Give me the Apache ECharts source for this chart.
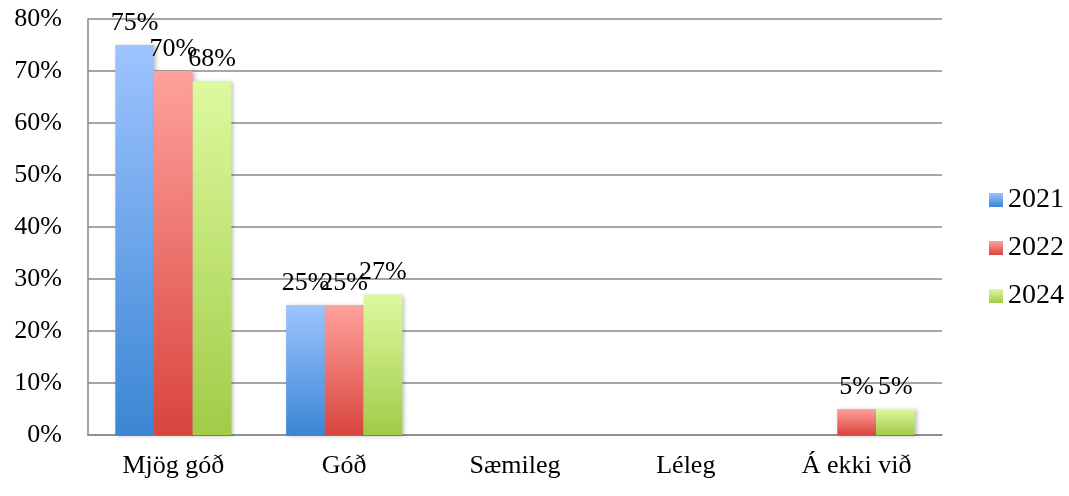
<!DOCTYPE html>
<html><head><meta charset="utf-8">
<script src="https://cdn.jsdelivr.net/npm/echarts@6/dist/echarts.min.js"></script>
<style>html,body{margin:0;padding:0;background:#fff}#c{width:1069px;height:496px}</style>
</head><body><div id="c"></div>
<script>
const categories = ['Mjög góð', 'Góð', 'Sæmileg', 'Léleg', 'Á ekki við'];
const years = ['2021', '2022', '2024'];
const v2021 = [75, 25, 0, 0, 0];
const v2022 = [70, 25, 0, 0, 5];
const v2024 = [68, 27, 0, 0, 5];
const yTicks = [0, 10, 20, 30, 40, 50, 60, 70, 80];

const FONT = 'Liberation Serif';
const grads = [
  ['#9EC4FF', '#3B86D4'],
  ['#FFA19C', '#D8453D'],
  ['#DCFA9E', '#A2CB48']
];
function grad(i) {
  return new echarts.graphic.LinearGradient(0, 0, 0, 1, [
    {offset: 0, color: grads[i][0]}, {offset: 1, color: grads[i][1]}
  ]);
}
const allVals = [v2021, v2022, v2024];
const chart = echarts.init(document.getElementById('c'));
chart.setOption({
  animation: false,
  backgroundColor: '#fff',
  grid: {left: 88, right: 127, top: 19, bottom: 61},
  legend: {
    orient: 'vertical', left: 984, top: 'middle', itemGap: 20,
    itemWidth: 14, itemHeight: 14,
    textStyle: {fontFamily: FONT, fontSize: 28, color: '#000', padding: [0, 0, 0, 0]},
    data: years.map((y, i) => ({name: y, icon: 'rect'}))
  },
  xAxis: {
    type: 'category', data: categories,
    axisLine: {lineStyle: {color: '#888', width: 1.5}},
    axisTick: {show: false},
    axisLabel: {fontFamily: FONT, fontSize: 26, color: '#000', margin: 18}
  },
  yAxis: {
    type: 'value', min: 0, max: 80, interval: 10,
    axisLine: {show: true, lineStyle: {color: '#888', width: 1.5}},
    axisTick: {show: false},
    splitLine: {lineStyle: {color: '#888', width: 1.5}},
    axisLabel: {fontFamily: FONT, fontSize: 26, color: '#000', margin: 26,
      formatter: v => yTicks.includes(v) ? v + '%' : ''}
  },
  series: years.map((y, i) => ({
    name: y, type: 'bar', data: allVals[i],
    barGap: '0%', barCategoryGap: '32%',
    itemStyle: {color: grad(i), shadowColor: 'rgba(0,0,0,0.25)', shadowBlur: 4, shadowOffsetX: 2, shadowOffsetY: 1},
    label: {show: true, position: 'top', distance: 9, fontFamily: FONT, fontSize: 26, color: '#000',
      formatter: p => p.value ? p.value + '%' : ''}
  }))
});
</script></body></html>
